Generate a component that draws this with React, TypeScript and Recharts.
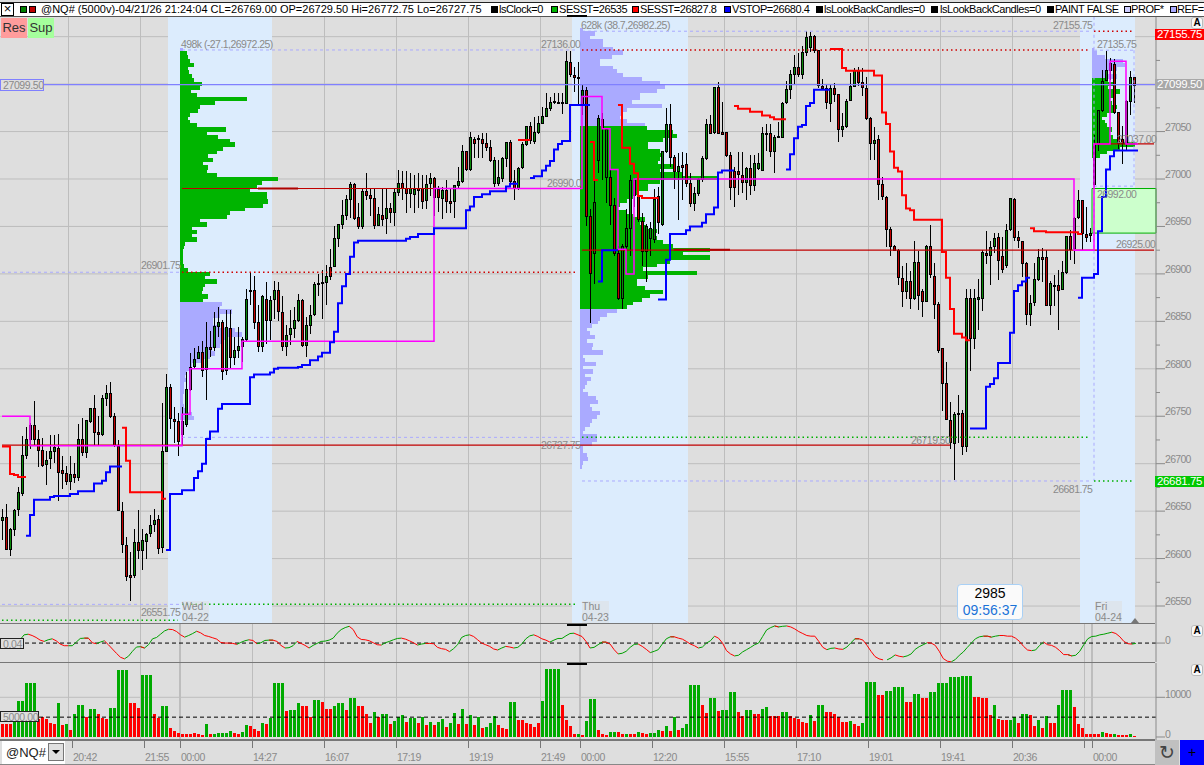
/**
 * NQ volume-bar chart: candles with session profiles, oscillator and volume panes
 */

import {
  Bar,
  CartesianGrid,
  Cell,
  ComposedChart,
  Line,
  ReferenceArea,
  ReferenceLine,
  XAxis,
  YAxis,
} from 'recharts';

// [open, high, low, close]
const candlesTue = [
  [26640,26652,26620,26643],[26643,26657,26609,26610],[26610,26632,26603,26631],[26631,26652,26624,26651],[26652,26675,26645,26670],
  [26669,26729,26666,26709],[26709,26739,26705,26726],[26726,26743,26715,26740],[26740,26766,26720,26726],[26725,26736,26696,26714],
  [26714,26727,26696,26698],[26699,26713,26678,26703],[26705,26730,26694,26713],[26713,26730,26701,26717],[26716,26731,26661,26691],
  [26693,26708,26673,26690],[26690,26698,26678,26681],[26681,26708,26672,26689],[26689,26701,26680,26685],[26685,26742,26682,26725],
  [26726,26748,26708,26712],[26712,26746,26706,26745],[26744,26759,26743,26758],[26758,26772,26720,26733],[26733,26750,26720,26731],
  [26731,26772,26729,26769],[26769,26783,26761,26774],[26774,26786,26748,26750],[26750,26753,26718,26719],[26718,26725,26650,26651],
  [26650,26660,26606,26615],[26614,26623,26576,26581],[26582,26607,26555,26581],[26582,26631,26580,26617],[26617,26651,26600,26609],
  [26609,26631,26588,26619],[26618,26627,26600,26625],[26626,26646,26623,26635],[26636,26652,26628,26640],[26641,26646,26605,26611],
  [26612,26764,26606,26713],[26713,26794,26712,26780],[26780,26784,26737,26748],[26747,26760,26722,26744],[26744,26753,26708,26723],
];

const candlesWed = [
  [26731,26760,26720,26744],[26741,26797,26739,26778],[26778,26817,26777,26801],[26802,26822,26800,26810],[26811,26824,26810,26817],
  [26817,26829,26791,26798],[26799,26849,26767,26822],[26822,26840,26812,26820],[26822,26860,26819,26845],[26845,26865,26833,26849],
  [26849,26851,26788,26797],[26798,26862,26793,26843],[26842,26862,26800,26812],[26812,26833,26804,26819],[26819,26844,26811,26823],
  [26823,26834,26807,26831],[26831,26884,26828,26873],[26883,26902,26867,26882],[26883,26898,26842,26849],[26849,26867,26818,26823],
  [26823,26878,26818,26876],[26873,26891,26826,26851],[26851,26877,26830,26872],[26873,26893,26853,26883],[26883,26891,26850,26860],
  [26859,26877,26819,26823],[26823,26846,26814,26835],[26836,26862,26825,26842],[26842,26865,26832,26851],[26851,26879,26849,26872],
  [26872,26874,26823,26825],[26825,26855,26812,26846],[26846,26867,26837,26856],[26857,26891,26856,26889],[26889,26900,26877,26890],
  [26890,26904,26853,26891],[26891,26909,26867,26897],[26907,26926,26894,26897],[26908,26950,26907,26937],[26937,26953,26928,26952],
  [26952,26978,26947,26962],[26962,26983,26957,26978],[26978,26997,26959,26994],[26994,26996,26957,26958],[26959,26975,26947,26950],
  [26950,26990,26947,26987],[26987,27006,26978,26983],[26983,26990,26961,26979],[26979,26990,26947,26951],[26951,26971,26950,26963],
  [26962,26990,26950,26957],[26958,26990,26942,26969],[26969,26975,26954,26965],[26965,26990,26950,26986],[26986,27009,26982,26995],
  [26995,27008,26978,26990],[26990,27008,26964,26985],[26985,27006,26969,26990],[26984,27004,26964,26989],[26990,27006,26969,26989],
  [26990,27004,26968,26976],[26977,27004,26968,26994],[26995,27006,26982,27001],[27001,27002,26961,26980],[26989,26993,26965,26980],
  [26979,26992,26958,26988],[26988,26999,26964,26976],[26976,26990,26964,26975],[26976,26994,26959,26993],[26993,27013,26990,26997],
  [26997,27036,26996,27029],[27029,27030,27008,27010],[27010,27050,27008,27044],[27042,27044,27022,27037],[27043,27046,27022,27042],
  [27042,27048,27022,27037],[27037,27048,27030,27033],[27033,27041,27018,27019],[26995,27023,26992,27019],[26995,27020,26993,27002],
  [27001,27023,26997,27022],[27022,27039,27013,27038],[27038,27041,26995,26997],[26997,27009,26978,26990],[26990,27013,26988,27011],
  [27012,27039,27011,27036],[27036,27056,27035,27055],[27055,27060,27037,27041],[27040,27065,27037,27049],[27049,27066,27047,27059],
  [27059,27076,27058,27066],[27066,27091,27065,27074],[27074,27086,27072,27081],[27081,27091,27079,27082],[27081,27091,27079,27080],
  [27081,27091,27069,27080],[27080,27135,27079,27124],[27123,27135,27108,27110],[27109,27118,27092,27108],[27107,27123,27077,27106],
];

const candlesThu = [
  [27079,27099,27067,27093],[27093,27097,26950,26961],[26961,26968,26848,26900],[26922,27009,26889,26975],[27020,27067,27006,27064],
  [27063,27070,26999,27053],[27002,27054,26975,27052],[27002,27009,26952,26972],[26972,26980,26919,26921],[26921,26929,26872,26874],
  [26874,26932,26863,26929],[26929,26968,26924,26948],[26948,27004,26919,26998],[26998,27001,26971,26983],[26982,26987,26955,26957],
  [26955,26964,26908,26924],[26924,26953,26891,26950],[26937,26955,26919,26948],[26936,26989,26933,26978],[26982,26992,26942,26954],
  [26952,27030,26950,27029],[27029,27075,27027,27057],[27057,27079,27013,27023],[27023,27025,26989,27008],[27008,27027,26957,27013],
  [27014,27029,26978,27013],[27015,27027,26992,26995],[26995,27006,26971,26974],[26974,26992,26966,26985],[26985,27001,26982,26999],
  [26999,27024,26997,27022],[27022,27063,27020,27057],[27057,27067,27047,27048],[27049,27097,27047,27096],[27096,27102,27047,27048],
  [27049,27081,27047,27048],[27049,27050,27023,27025],[27025,27029,26978,26991],[27008,27013,26971,26991],[27008,27029,26983,27005],
  [27004,27029,26985,26996],[26996,27013,26978,27011],[27011,27025,26983,26993],[26993,27025,26987,27016],[27011,27027,27009,27016],
  [27009,27055,27008,27048],[27048,27058,27030,27047],[27048,27058,27023,27029],[27029,27046,27006,27044],[27044,27060,27043,27045],
  [27044,27081,27043,27080],[27081,27103,27079,27094],[27094,27115,27084,27110],[27110,27131,27100,27118],[27118,27133,27108,27110],
  [27110,27140,27105,27133],[27133,27156,27130,27149],[27139,27155,27134,27150],[27150,27152,27133,27135],[27135,27136,27096,27099],
  [27098,27105,27094,27095],[27095,27100,27074,27081],[27080,27100,27060,27095],[27095,27101,27081,27089],[27089,27090,27039,27052],
  [27052,27070,27044,27055],[27055,27084,27054,27082],[27083,27112,27082,27097],[27098,27117,27097,27114],[27114,27118,27098,27102],
  [27102,27117,27088,27096],[27095,27107,27062,27064],[27064,27065,27020,27037],[27037,27055,27020,27041],[27042,27046,26978,26994],
  [26994,27002,26978,26982],[26981,26982,26928,26947],[26947,26949,26919,26929],[26929,26930,26924,26925],[26925,26926,26888,26896],
  [26895,26908,26865,26881],[26881,26912,26874,26892],[26892,26903,26863,26874],[26874,26935,26872,26912],[26912,26924,26862,26877],
  [26881,26884,26855,26871],[26871,26930,26870,26929],[26929,26952,26896,26899],[26897,26912,26853,26868],[26868,26870,26817,26819],
  [26821,26822,26756,26785],[26784,26807,26746,26747],[26746,26765,26715,26722],[26721,26754,26683,26752],[26753,26772,26722,26752],
  [26753,26757,26709,26718],[26718,26884,26712,26874],[26874,26884,26798,26832],[26832,26884,26821,26874],[26874,26895,26841,26875],
  [26874,26925,26861,26923],[26921,26945,26910,26920],[26919,26935,26888,26928],[26929,26943,26922,26937],[26938,26943,26894,26914],
  [26918,26939,26901,26905],[26909,26953,26906,26946],[26947,26980,26945,26979],[26978,26980,26935,26938],[26938,26945,26927,26935],
  [26934,26935,26897,26911],[26911,26913,26846,26857],[26857,26878,26845,26869],[26870,26911,26866,26894],[26894,26926,26892,26917],
  [26917,26927,26891,26915],[26917,26925,26866,26867],[26867,26892,26857,26890],[26888,26899,26866,26887],[26888,26904,26841,26883],
  [26884,26914,26883,26901],[26902,26940,26900,26939],[26939,26946,26915,26926],[26927,26960,26910,26958],[26959,26988,26958,26977],
  [26977,26978,26925,26943],[26942,26971,26934,26938],[26940,26948,26934,26943],
];

const candlesFri = [
  [26994,27046,26992,27036],[27036,27073,27030,27072],[27072,27115,27071,27103],[27104,27135,27103,27114],[27114,27128,27104,27122],
  [27121,27126,27068,27070],[27070,27071,27032,27037],[27042,27056,27016,27037],[27037,27083,27030,27082],[27082,27114,27067,27107],
  [27107,27108,27080,27099],
];

const volumeA = [
  3400,3400,3400,4650,9100,9100,13600,13600,13600,4650,
  5100,4650,3500,3300,8550,2950,3200,1700,5750,8050,
  8050,5000,7000,7000,5750,4800,4600,7300,7300,16900,
  16900,16900,8550,8550,7300,15700,15700,15700,5750,4750,
  7800,7800,2200,1450,1000,700,700,700,950,700,
  400,3200,700,700,950,1100,950,1450,950,750,
  1200,2950,2700,1950,1450,3500,3200,4750,13600,13600,
  13600,6500,6800,6800,8550,7800,7800,5100,9300,9300,
  8800,7000,7000,7800,8550,8550,6800,9800,9800,7800,
  7800,5750,3500,6200,5100,5900,5750,3200,4000,5000,
];
const volumeB = [
  5500,3700,4750,4750,3500,5150,2950,3700,2950,3700,
  4500,2450,3500,6000,3200,7000,3200,5500,2950,5150,
  2200,2450,3500,5250,2950,2200,1950,8800,8800,4250,
  4250,3500,3200,2450,3500,9100,17200,17200,17200,17200,
  8050,4250,2700,700,700,400,4000,9600,9600,1700,
  700,400,1200,1200,1200,700,700,700,700,1200,
  950,700,950,950,1700,1450,2700,1450,5000,1700,
  2200,3200,13100,13100,13100,8050,6000,9800,9800,6500,
  6800,6800,11350,11350,6300,5250,6800,6800,5750,5750,
  7000,7550,5250,5250,5250,6300,6300,5250,4750,4500,
];
const volumeC = [
  3700,3500,5500,4000,8050,8050,6300,6300,5750,5000,
  3700,3700,4000,3200,2700,3500,13900,13900,13900,10600,
  10600,11600,11600,12600,12600,12600,8800,8800,10800,10800,
  9800,9800,11350,11350,13600,13600,13600,15200,15200,15200,
  15400,15400,15400,10100,10100,9800,9800,5500,8050,4500,
  4250,4250,4250,5000,3500,5750,5750,5500,2700,4250,
  2200,5250,3500,3500,8050,11900,11900,11900,7550,3200,
  2200,700,700,700,700,1200,950,700,700,400,
  400,400,700,350,
];
// g = up bar, r = down bar
const volumeSides = [
  'rrrggggggr','rrrrgrgrgg','grggrrrggg','ggrrrgggrr','ggrrrrrrrr','rgrgggggrr','ggrrrgrggg','grgggrrrgg','rrrgggrggr','rrrgrggrgg',
  'grggrgrgrg','grggrgrgrg','rgggrrrggr','rrrrrggggg','rrrrgrgggr','rrggrrgrrg','rrgggrgrgr','gggggrrggr','ggggrrggrr','ggrrrggrrr',
  'rrgrggrrrr','rrgrrggggr','rgggggrrgg','rrgggggggg','gggrrrrrgr','rrggrggrrg','rgrrggggrr','rrrrrgrrgr','rrgr',
].join('');

const oscillatorA = [
  -5,-8,-10,-7,-3,10,25,27,23,17,9,5,10,13,7,-3,-8,-8,-8,3,
  14,15,15,1,-2,3,7,-5,-18,-31,-43,-48,-40,-25,-12,-11,-15,-5,13,17,
  27,37,42,41,35,25,18,23,29,36,31,23,20,16,12,2,0,0,-1,-4,
  2,7,10,8,-2,1,8,9,9,5,-7,-15,-14,-8,5,-1,-7,-15,-7,-1,
  5,6,9,15,30,41,47,51,41,19,11,10,7,1,-5,-6,1,5,10,14,
];
const oscillatorB = [
  15,12,7,1,-6,-3,-1,-1,-2,-13,-17,-19,-26,-17,-5,17,23,25,20,10,
  0,-5,-10,-18,-21,-15,-10,-12,-15,-13,-3,13,22,25,20,13,9,3,9,14,
  14,22,29,30,25,20,5,-15,-13,-5,3,3,-3,-20,-33,-31,-25,-13,-4,-3,
  -10,-19,-29,-25,-20,-3,13,19,19,15,12,5,-3,-8,-15,-12,0,7,21,15,
  0,-23,-33,-39,-37,-27,-20,-13,-5,0,20,40,47,52,49,51,52,49,43,35,
];
const oscillatorC = [
  29,23,21,21,5,-13,-20,-16,-15,-18,-19,-12,1,13,13,9,-7,-25,-41,-48,
  -51,-51,-45,-36,-40,-42,-39,-33,-19,-11,-5,1,0,-7,-25,-47,-55,-57,-50,-37,
  -27,-13,0,13,19,21,21,18,21,23,23,21,21,15,5,-10,-21,-23,-21,-7,
  3,-5,-7,-13,-23,-35,-35,-39,-37,-25,-5,13,20,21,25,27,30,33,29,19,
  5,-2,-3,-1,
];

// [bar index, price]; a null price ends the line
const vstopSteps = [
  [6,26624],[7,26646],[8,26662],[12,26665],[13,26666],[17,26668],[19,26671],[23,26679],[25,26682],[26,26691],[27,26697],[30,null],
  [41,26609],[42,26668],[45,26672],[48,26685],[49,26692],[50,26700],[51,26726],[52,26734],[54,26758],[55,26763],[62,26791],[63,26794],
  [67,26796],[68,26800],[69,26801],[74,26802],[75,26804],[77,26809],[79,26813],[80,26817],[82,26828],[83,26839],[84,26869],[85,26887],
  [86,26900],[87,26918],[88,26933],[89,26935],[101,26937],[102,26939],[104,26942],[108,26948],[116,26967],[117,26971],[118,26981],
  [120,26984],[122,26987],[126,26992],[127,26995],[129,null],
  [132,27001],[133,27003],[135,27009],[136,27014],[137,27019],[138,27031],[139,27037],[140,27040],[142,27078],[147,null],
  [149,26892],[150,26925],[154,null],
  [164,26873],[166,26915],[167,26942],[171,26946],[172,26950],[175,26954],[176,26963],[178,26970],[179,27007],[180,27009],[183,null],
  [196,27010],[197,27026],[198,27043],[199,27055],[200,27057],[201,27077],[202,27080],[203,27094],[207,null],
  [242,26737],[246,26781],[247,26784],[248,26790],[249,26806],[252,26838],[253,26882],[254,26888],[255,26892],[256,26896],[257,null],
  [269,26875],[270,26896],[273,26900],[274,26945],[275,26981],[276,27010],[277,27024],[278,27030],[284,null],
];
const sessionHighSteps = [
  [0,26718],[2,26689],[3,26688],[4,26686],[6,null],
  [30,26738],[31,26703],[32,26670],[40,26663],[41,null],
  [129,27041],[132,null],
  [147,27039],[148,26999],[149,null],
  [154,27078],[155,27033],[157,27016],[158,27006],[159,26982],[160,26980],[164,null],
  [183,27077],[184,27074],[187,27071],[190,27067],[192,27065],[193,27063],[196,null],
  [207,27137],[210,27117],[211,27114],[218,27109],[220,27070],[221,27058],[222,27029],[223,27012],[224,27008],[225,26983],[226,26969],
  [227,26967],[228,26957],[235,26923],[236,26896],[237,26863],[238,26837],[240,26833],[241,26830],[242,null],
  [257,26948],[258,26945],[261,26944],[269,26942],[270,null],
];
const rangeSteps = [
  [0,26750],[7,26719],[45,26752],[47,26800],[60,26829],[108,26990],[145,27087],[150,27053],[152,27010],[154,26926],[156,26900],
  [158,27000],[268,26925],[273,27037],[277,27124],[281,27037],[284,null],
];

const profileWed = [
  3,7,8,10,14,8,9,12,14,22,20,11,17,67,35,20,18,10,8,10,17,46,27,38,50,55,43,37,28,33,23,28,27,37,98,82,77,70,87,87,88,83,65,50,47,20,27,
  12,17,12,17,5,4,3,3,3,3,4,8,30,25,37,25,23,22,28,23,42,40,52,40,33,33,40,55,62,45,42,40,32,35,30,22,12,9,7,5,6,4,4,4,3,3,3,4,6,12,14,
];
const profileThu = [
  3,15,10,23,23,33,43,32,20,20,33,37,43,62,80,85,77,60,60,52,82,47,43,40,47,65,
  67,93,97,83,68,68,80,83,80,78,93,80,103,138,80,68,68,58,53,47,40,38,47,53,65,60,67,77,73,77,83,93,130,103,130,90,77,63,117,68,57,57,65,83,70,62,53,47,
  37,27,20,18,12,7,10,15,7,13,12,23,3,5,16,3,13,5,11,7,5,3,8,16,18,10,12,20,17,12,10,5,3,17,17,12,3,3,7,8,3,2,
];
const profileFri = [2,5,13,31,33,25,16,25,16,23,16,28,23,18,20,25,23,15,10,13,15,20,18,21,25,43,28,15,8];

const priceTicks = [26550,26575,26600,26625,26650,26675,26700,26725,26750,26775,26800,26825,26850,26875,26900,26925,26950,26975,27000,27025,27050,27075,27100,27125,27150];
const timeTicks = [18,36,45,63,81,99,117,135,145,163,181,199,217,235,253,271,273];
const timeLabels = ['20:42','21:55','00:00','14:27','16:07','17:19','19:19','21:49','00:00','12:20','15:55','17:10','19:01','19:41','20:36','','00:00'];

const candles = [...candlesTue, ...candlesWed, ...candlesThu, ...candlesFri];
const volumes = [...volumeA, ...volumeB, ...volumeC];
const oscillator = [...oscillatorA, ...oscillatorB, ...oscillatorC];
const SLOTS = 289;

function expandSteps(steps: (number | null)[][]) {
  const out: (number | null)[] = new Array(SLOTS).fill(null);
  steps.forEach(([start, price], k) => {
    if (price === null) return;
    const end = steps[k + 1] ? (steps[k + 1][0] as number) : SLOTS - 1;
    for (let i = start as number; i <= end; i++) out[i] = price;
  });
  return out;
}

const vstopLine = expandSteps(vstopSteps);
const sessionLine = expandSteps(sessionHighSteps);
const rangeLine = expandSteps(rangeSteps);

const rows = Array.from({ length: SLOTS }, (_, i) => {
  const c = candles[i];
  const osc = oscillator[i];
  const prev = oscillator[i - 1];
  const next = oscillator[i + 1];
  const rising = osc !== undefined && ((prev !== undefined && osc >= prev) || (next !== undefined && next > osc));
  const falling = osc !== undefined && ((prev !== undefined && osc < prev) || (next !== undefined && next <= osc));
  return {
    i,
    range: c ? [c[2], c[1]] : null,
    open: c ? c[0] : null,
    high: c ? c[1] : null,
    low: c ? c[2] : null,
    close: c ? c[3] : null,
    volume: volumes[i] ?? null,
    oscUp: rising ? osc : null,
    oscDown: falling ? osc : null,
    vstop: vstopLine[i],
    session: sessionLine[i],
    rangeLine: rangeLine[i],
  };
});

function profileRows(values: number[], startPrice: number, greenFrom: number, greenTo: number) {
  return values.map((value, k) => ({
    price: startPrice - 4 * k,
    value,
    green: k >= greenFrom && k <= greenTo,
  }));
}

const WIDTH = 1204;
const HEIGHT = 765;
const PRICE_DOMAIN: [number, number] = [26532.1, 27171.8];
const priceMargin = { top: 16, bottom: HEIGHT - 623, left: 0, right: 48 };
const gridX = [68.5, 140.5, 252.5, 324.5, 396.5, 468.5, 540.5, 652.5, 724.5, 796.5, 868.5, 940.5, 1012.5, 1084.5];
const thickGridX = [180, 580, 1092];
const GRID = '#bdbdbd';
const font = '"Liberation Sans", Arial, sans-serif';
const layer = { position: 'absolute', left: 0, top: 0 } as const;

function Candle(props: any) {
  const { x, y, height, payload } = props;
  if (!payload || payload.high === null) return null;
  const perPoint = height / Math.max(payload.high - payload.low, 1);
  const bodyTop = y + (payload.high - Math.max(payload.open, payload.close)) * perPoint;
  const bodyH = Math.max(Math.abs(payload.open - payload.close) * perPoint, 1.5);
  const left = Math.floor(x);
  const up = payload.close >= payload.open;
  return (
    <g shapeRendering="crispEdges">
      <rect x={left + 1} y={y} width={1} height={height} fill="#000" />
      <rect x={left} y={bodyTop - 0.5} width={3} height={bodyH + 1} fill="#000" />
      <rect x={left + 1} y={bodyTop + 0.5} width={1} height={Math.max(bodyH - 1, 0)} fill={up ? '#0a8a0a' : '#c00000'} />
    </g>
  );
}

function VolumeBar(props: any) {
  const { x, y, height, fill } = props;
  if (!height) return null;
  return <rect x={Math.floor(x)} y={y} width={3} height={height} fill={fill} shapeRendering="crispEdges" />;
}

// each level fills its full price step so the profile reads as one solid shape
function ProfileLevel(props: any) {
  const { x, y, width, height, fill } = props;
  return <rect x={x} y={y + height / 2 - 2.2} width={width} height={4.4} fill={fill} shapeRendering="crispEdges" />;
}

function PriceTick(props: any) {
  const { y, payload } = props;
  const v = payload.value as number;
  const major = v % 50 === 0;
  return (
    <g>
      <line x1={1156} x2={major ? 1165 : 1160} y1={y} y2={y} stroke="#8a8a8a" />
      {major && v !== 27100 && v !== 27150 && (
        <text x={1165} y={y - 1} fontSize={10.5} fontFamily={font} fill="#8a8a8a" letterSpacing={-0.7}>
          {v}
        </text>
      )}
    </g>
  );
}

function PaneTick(props: any) {
  const { y, payload } = props;
  return (
    <g>
      <line x1={1156} x2={1165} y1={y} y2={y} stroke="#8a8a8a" />
      <text x={1165} y={y + 1} fontSize={10.5} fontFamily={font} fill="#8a8a8a" letterSpacing={-0.7}>
        {payload.value}
      </text>
    </g>
  );
}

function TimeTick(props: any) {
  const { x, payload } = props;
  const label = timeLabels[timeTicks.indexOf(payload.value)];
  return (
    <g>
      <line x1={x - 1.5} x2={x - 1.5} y1={741} y2={748} stroke="#777" />
      <text x={x - 1} y={761} fontSize={10.5} fontFamily={font} fill="#8a8a8a" letterSpacing={-0.5}>
        {label}
      </text>
    </g>
  );
}

function ProfileChart({ left, width, data }: { left: number; width: number; data: ReturnType<typeof profileRows> }) {
  return (
    <div style={{ position: 'absolute', left, top: 0 }}>
      <ComposedChart layout="vertical" width={width} height={HEIGHT} data={data} margin={{ top: 16, bottom: HEIGHT - 623, left: 0, right: 0 }}>
        <XAxis type="number" hide domain={[0, width]} />
        <YAxis type="number" hide dataKey="price" domain={PRICE_DOMAIN} reversed allowDataOverflow />
        <Bar dataKey="value" barSize={4} shape={<ProfileLevel />} isAnimationActive={false}>
          {data.map((d) => (
            <Cell key={d.price} fill={d.green ? '#00b400' : '#aaaaff'} />
          ))}
        </Bar>
      </ComposedChart>
    </div>
  );
}

// price level lines: [from bar, to bar, price]
const pocLines = [[45, 145, 26990], [145, 288, 26925], [0, 237, 26719.5], [273, 288, 27037]];
const thickPocLines = [[64, 74, 26990], [168, 182, 26925.5]];
const redDotted = [[45, 144, 26901.75], [145, 272, 27136], [273, 283, 27155.75]];
const greenDotted = [[145, 272, 26727.75], [45, 144, 26551.75], [0, 44, 26535], [273, 283, 26681.75]];
const lavenderDashed = [
  [45, 144, 27136], [145, 272, 27155.75], [0, 45, 26901.75], [45, 144, 26727.75], [145, 272, 26681.75], [0, 45, 26551.75],
  [273, 283, 27135.75], [273, 283, 26992.5],
];
// session bands as bar-index spans
const sessionBands = [[41.5, 67.5], [142.5, 171.5], [269.5, 283.25]];

function segment(from: number, to: number, price: number) {
  return [{ x: from, y: price }, { x: to, y: price }] as any;
}

const chartLabels: [string, number, number][] = [
  ['498k (-27.1,26972.25)', 181, 38],
  ['628k (38.7,26982.25)', 581, 19],
  ['26901.75', 141, 259],
  ['27136.00', 541, 38],
  ['26990.0', 547, 177],
  ['26727.75', 541, 439],
  ['26551.75', 141, 606],
  ['26719.50', 911, 434],
  ['26681.75', 1053, 483],
  ['27155.75', 1053, 19],
  ['27135.75', 1097, 38],
  ['27037.00', 1117, 133],
  ['26992.00', 1097, 188],
  ['26925.00', 1116, 238],
];

const headerItems: [string, string, number, number][] = [
  ['#000', 'lsClock=0', 491, 499],
  ['#00b400', 'SESST=26535', 551, 559],
  ['#ff0000', 'SESST=26827.8', 632, 640],
  ['#0000ff', 'VSTOP=26680.4', 724, 732],
  ['#000', 'lsLookBackCandles=0', 816, 824],
  ['#000', 'lsLookBackCandles=0', 931, 940],
  ['#000', 'PAINT FALSE', 1047, 1055],
  ['#ccccff', 'PROF*', 1124, 1131],
  ['#aaaaff', 'REF=', 1170, 1177],
];

const dateLabels: [string, string, number][] = [['Wed', '04-22', 182], ['Thu', '04-23', 582], ['Fri', '04-24', 1095]];

function Abox({ top }: { top: number }) {
  return (
    <div style={{ position: 'absolute', left: 1191, top, width: 12, height: 12, background: '#f8f8f8', border: '1px solid #bbb', borderRadius: 3, boxSizing: 'border-box', font: `bold 10px ${font}`, textAlign: 'center', lineHeight: '10px', color: '#000' }}>
      A
    </div>
  );
}

function Overlay() {
  const small = { position: 'absolute', font: `10.5px ${font}`, color: '#8a8a8a', letterSpacing: -0.55, whiteSpace: 'nowrap', lineHeight: '12px' } as const;
  const flag = { position: 'absolute', left: 1155, width: 49, height: 11, font: `11.5px ${font}`, color: '#fff', lineHeight: '11px', paddingLeft: 2, boxSizing: 'border-box', letterSpacing: -0.35, whiteSpace: 'nowrap' } as const;
  const valueBox = { position: 'absolute', left: 0, font: `10.5px ${font}`, color: '#8a8a8a', lineHeight: '10px', boxSizing: 'border-box', paddingLeft: 2, background: '#dedede', letterSpacing: -0.4 } as const;
  return (
    <>
      <div style={{ position: 'absolute', left: 0, top: 2, width: WIDTH, height: 15, background: '#fff', borderTop: '1px solid #222', borderBottom: '1px solid #555', boxSizing: 'border-box' }} />
      <div style={{ position: 'absolute', left: 1, top: 3, width: 13, height: 13, border: '1px solid #000', boxSizing: 'border-box', font: `13px ${font}`, lineHeight: '10px', textAlign: 'center', color: '#000' }}>
        ×
      </div>
      <div style={{ position: 'absolute', left: 20, top: 6, width: 7, height: 7, background: '#008000', border: '1px solid #000', boxSizing: 'border-box' }} />
      <div style={{ position: 'absolute', left: 29, top: 6, width: 7, height: 7, background: '#c00000', border: '1px solid #000', boxSizing: 'border-box' }} />
      <div style={{ position: 'absolute', left: 41, top: 3, font: `11px ${font}`, lineHeight: '13px', color: '#000', whiteSpace: 'nowrap' }}>
        @NQ# (5000v)-04/21/26 21:24:04 CL=26769.00 OP=26729.50 Hi=26772.75 Lo=26727.75
      </div>
      {headerItems.map(([color, text, sq, tx]) => (
        <div key={sq}>
          <div style={{ position: 'absolute', left: sq, top: 6, width: 7, height: 7, background: color, border: '1px solid #000', boxSizing: 'border-box' }} />
          <div style={{ position: 'absolute', left: tx, top: 3, font: `11px ${font}`, lineHeight: '13px', color: '#000', whiteSpace: 'nowrap', letterSpacing: -0.45 }}>{text}</div>
        </div>
      ))}

      <div style={{ position: 'absolute', left: 1, top: 18, width: 26, height: 20, background: '#ff9c9c', font: `13px ${font}`, lineHeight: '20px', textAlign: 'center', color: '#333' }}>Res</div>
      <div style={{ position: 'absolute', left: 28, top: 18, width: 26, height: 20, background: '#a5ff9c', font: `13px ${font}`, lineHeight: '20px', textAlign: 'center', color: '#333' }}>Sup</div>

      {chartLabels.map(([text, left, top]) => (
        <div key={text} style={{ ...small, left, top }}>{text}</div>
      ))}
      {dateLabels.map(([day, date, left]) => (
        <div key={day} style={{ ...small, left, top: 601, background: '#dedede80', lineHeight: '11px', letterSpacing: 0 }}>{day}<br />{date}</div>
      ))}

      <div style={{ ...valueBox, top: 79, width: 44, height: 12, border: '1px solid #8080ff' }}>27099.50</div>
      <div style={{ ...valueBox, top: 638, width: 24, height: 11, border: '1px solid #222' }}>0.04</div>
      <div style={{ ...valueBox, top: 711, width: 39, height: 11, border: '1px solid #222' }}>5000.00</div>

      <div style={{ ...flag, top: 29, background: '#ff0000' }}>27155.75</div>
      <div style={{ ...flag, top: 79, background: '#a8a8a8' }}>27099.50</div>
      <div style={{ ...flag, top: 476, background: '#00c800' }}>26681.75</div>

      <Abox top={17} />
      <Abox top={625} />
      <Abox top={664} />

      <div style={{ position: 'absolute', left: 957, top: 584, width: 66, height: 36, background: '#fafafa', border: '1px solid #a9d0f5', borderRadius: 4, boxSizing: 'border-box', textAlign: 'center', font: `14px ${font}`, lineHeight: '17px' }}>
        <div style={{ color: '#000' }}>2985</div>
        <div style={{ color: '#1a73d8' }}>09:56:37</div>
      </div>

      {/* pane handles */}
      <div style={{ position: 'absolute', left: 567, top: 15, width: 20, height: 2, background: '#000' }} />
      <div style={{ position: 'absolute', left: 567, top: 624, width: 20, height: 2, background: '#000' }} />
      <div style={{ position: 'absolute', left: 567, top: 663, width: 20, height: 2, background: '#000' }} />
      <div style={{ position: 'absolute', left: 0, top: 623, width: 1155, height: 1, background: '#777' }} />
      <div style={{ position: 'absolute', left: 0, top: 662, width: 1155, height: 1, background: '#777' }} />
      <div style={{ position: 'absolute', left: 0, top: 739, width: 1155, height: 2, background: '#777' }} />
      <div style={{ position: 'absolute', left: 0, top: 764, width: 1155, height: 1, background: '#888' }} />
      <div style={{ position: 'absolute', left: 1131, top: 618, width: 0, height: 0, borderLeft: '4px solid transparent', borderRight: '4px solid transparent', borderBottom: '5px solid #777' }} />

      <div style={{ position: 'absolute', left: 2, top: 741, width: 63, height: 23, background: '#fff' }} />
      <div style={{ position: 'absolute', left: 6, top: 745, font: `13px ${font}`, color: '#222' }}>@NQ#</div>
      <div style={{ position: 'absolute', left: 48, top: 743, width: 16, height: 18, background: '#e0e0e0', border: '1px solid #777', boxSizing: 'border-box' }}>
        <div style={{ margin: '6px auto 0', width: 0, height: 0, borderLeft: '4px solid transparent', borderRight: '4px solid transparent', borderTop: '4px solid #000' }} />
      </div>
      <div style={{ position: 'absolute', left: 1155, top: 740, width: 24, height: 25, background: '#c0c0c0', font: `19px ${font}`, lineHeight: '25px', textAlign: 'center', color: '#444' }}>↻</div>
      <div style={{ position: 'absolute', left: 1180, top: 740, width: 24, height: 25, background: '#0000ff', font: `14px ${font}`, lineHeight: '25px', textAlign: 'center', color: '#000' }}>+</div>
    </>
  );
}

export default function App() {
  return (
    <div style={{ position: 'absolute', left: 0, top: 0, width: WIDTH, height: HEIGHT, background: '#dedede', overflow: 'hidden' }}>
      {/* session bands and grid */}
      <div style={layer}>
        <ComposedChart width={WIDTH} height={HEIGHT} data={rows} margin={priceMargin}>
          <XAxis dataKey="i" type="number" hide domain={[-0.5, 288.5]} />
          <YAxis hide domain={PRICE_DOMAIN} ticks={priceTicks.filter((t) => t % 50 === 0)} allowDataOverflow />
          {sessionBands.map(([a, b]) => (
            <ReferenceArea key={a} x1={a} x2={b} fill="#dcecfd" fillOpacity={1} strokeWidth={0} />
          ))}
          <CartesianGrid stroke={GRID} verticalPoints={gridX} horizontalPoints={priceTicks.filter((t) => t % 50 === 0).map((t) => 179 + (27000 - t) * 0.949)} />
          <CartesianGrid stroke={GRID} strokeWidth={2} horizontal={false} verticalPoints={thickGridX} />
          <ReferenceArea x1={272.5} x2={288.5} y1={26943} y2={26990} fill="#ccffcc" fillOpacity={1} stroke="#00b000" />
        </ComposedChart>
      </div>

      <ProfileChart left={180} width={120} data={profileRows(profileWed, 27136, 1, 66)} />
      <ProfileChart left={580} width={150} data={profileRows(profileThu, 27157, 26, 73)} />
      <ProfileChart left={1092} width={60} data={profileRows(profileFri, 27136, 8, 28)} />

      {/* levels, candles and stops */}
      <div style={layer}>
        <ComposedChart width={WIDTH} height={HEIGHT} data={rows} margin={{ top: 16, bottom: HEIGHT - 623, left: 0, right: 0 }}>
          <XAxis dataKey="i" hide />
          <YAxis orientation="right" width={48} domain={PRICE_DOMAIN} ticks={priceTicks} interval={0} allowDataOverflow stroke="#8a8a8a" tickLine={false} tick={<PriceTick />} />
          <ReferenceLine y={27099.5} stroke="#8080ff" strokeWidth={1.2} />
          {lavenderDashed.map(([a, b, p], k) => (
            <ReferenceLine key={`d${k}`} segment={segment(a, b, p)} stroke="#aaaaff" strokeDasharray="3 3" />
          ))}
          <ReferenceLine segment={[{ x: 273, y: 27171 }, { x: 273, y: 26681.75 }] as any} stroke="#aaaaff" strokeDasharray="3 3" />
          <ReferenceLine segment={[{ x: 283, y: 27135.75 }, { x: 283, y: 26992.5 }] as any} stroke="#aaaaff" strokeDasharray="3 3" />
          {redDotted.map(([a, b, p], k) => (
            <ReferenceLine key={`r${k}`} segment={segment(a, b, p)} stroke="#d00000" strokeDasharray="1.5 3" strokeWidth={1.5} />
          ))}
          {greenDotted.map(([a, b, p], k) => (
            <ReferenceLine key={`g${k}`} segment={segment(a, b, p)} stroke="#00b000" strokeDasharray="1.5 3" strokeWidth={1.5} />
          ))}
          {pocLines.map(([a, b, p], k) => (
            <ReferenceLine key={`p${k}`} segment={segment(a, b, p)} stroke="#c00000" strokeWidth={1.2} />
          ))}
          {thickPocLines.map(([a, b, p], k) => (
            <ReferenceLine key={`t${k}`} segment={segment(a, b, p)} stroke="#b00000" strokeWidth={2} />
          ))}
          <Line dataKey="rangeLine" type="stepAfter" stroke="#ff00ff" strokeWidth={1.5} dot={false} activeDot={false} isAnimationActive={false} />
          <Bar dataKey="range" barSize={3} shape={<Candle />} isAnimationActive={false} />
          <Line dataKey="vstop" type="stepAfter" stroke="#0000ff" strokeWidth={2} dot={false} activeDot={false} isAnimationActive={false} />
          <Line dataKey="session" type="stepAfter" stroke="#ff0000" strokeWidth={2} dot={false} activeDot={false} isAnimationActive={false} />
        </ComposedChart>
      </div>

      {/* oscillator pane */}
      <div style={layer}>
        <ComposedChart width={WIDTH} height={HEIGHT} data={rows} margin={{ top: 623, bottom: HEIGHT - 662, left: 0, right: 0 }}>
          <CartesianGrid stroke={GRID} horizontal={false} verticalPoints={gridX} />
          <CartesianGrid stroke={GRID} strokeWidth={2} horizontal={false} verticalPoints={thickGridX} />
          <XAxis dataKey="i" hide />
          <YAxis orientation="right" width={48} domain={[-57.5, 61]} ticks={[0]} allowDataOverflow stroke="#8a8a8a" tickLine={false} tick={<PaneTick />} />
          <ReferenceLine y={0} stroke="#000" strokeDasharray="4 3" />
          <Line dataKey="oscUp" stroke="#00a000" strokeWidth={1} dot={false} activeDot={false} isAnimationActive={false} />
          <Line dataKey="oscDown" stroke="#ff0000" strokeWidth={1} dot={false} activeDot={false} isAnimationActive={false} />
        </ComposedChart>
      </div>

      {/* volume pane */}
      <div style={layer}>
        <ComposedChart width={WIDTH} height={HEIGHT} data={rows} margin={{ top: 663, bottom: 0, left: 0, right: 0 }}>
          <CartesianGrid stroke={GRID} verticalPoints={gridX} horizontalPoints={[697.3]} />
          <CartesianGrid stroke={GRID} strokeWidth={2} horizontal={false} verticalPoints={thickGridX} />
          <XAxis dataKey="i" height={25} ticks={timeTicks} interval={0} axisLine={false} tickLine={false} tick={<TimeTick />} />
          <YAxis orientation="right" width={48} domain={[-756, 18640]} ticks={[0, 10000]} allowDataOverflow stroke="#8a8a8a" tickLine={false} tick={<PaneTick />} />
          <Bar dataKey="volume" barSize={3} shape={<VolumeBar />} isAnimationActive={false}>
            {rows.map((r) => (
              <Cell key={r.i} fill={volumeSides[r.i] === 'g' ? '#00aa00' : '#ff0000'} />
            ))}
          </Bar>
          <ReferenceLine y={5000} stroke="#000" strokeDasharray="4 3" />
        </ComposedChart>
      </div>

      <Overlay />
    </div>
  );
}
